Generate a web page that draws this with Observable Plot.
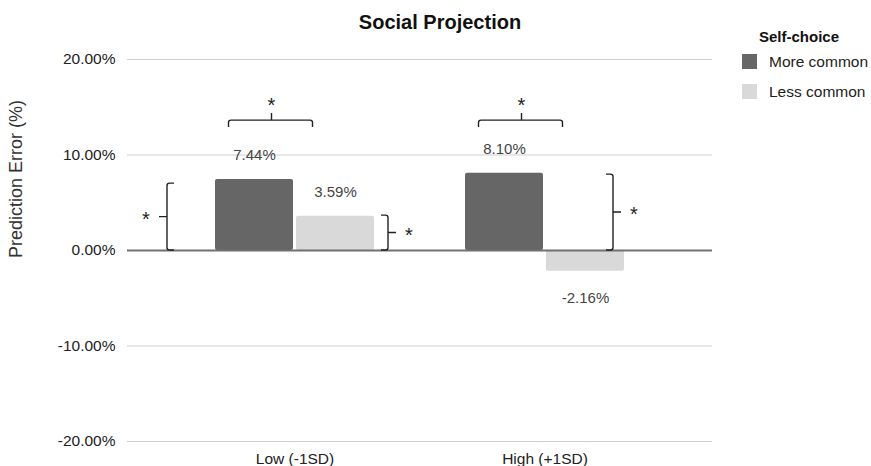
<!DOCTYPE html>
<html>
<head>
<meta charset="utf-8">
<script src="https://cdn.jsdelivr.net/npm/d3@7"></script>
<script src="https://cdn.jsdelivr.net/npm/@observablehq/plot@0.6"></script>
<style>
  body { margin: 0; background: #fff; font-family: "Liberation Sans", Arial, sans-serif; }
  #wrap { position: relative; width: 871px; height: 466px; overflow: hidden; }
  #chart { position: absolute; left: 0; top: 0; }
  #title { position: absolute; left: 0; width: 880px; top: 12px; text-align: center;
           font-weight: bold; font-size: 20px; line-height: 1; color: #111; }
  #legend { position: absolute; left: 742px; top: 0; }
  #legend .lt { position: absolute; left: 17px; top: 28px; font-weight: bold; font-size: 15px;
                line-height: 18px; white-space: nowrap; color: #111; }
  #legend .item { position: absolute; left: 0; white-space: nowrap; height: 15px; }
  #legend .sw { position: absolute; left: 0; top: 0; width: 15px; height: 15px; }
  #legend .lab { position: absolute; left: 27px; top: -2px; font-size: 15.5px; line-height: 19px; color: #222; }
</style>
</head>
<body>
<div id="wrap">
  <div id="chart"></div>
  <div id="title"></div>
  <div id="legend"></div>
</div>
<script>
// ---------- data ----------
const chartTitle = "Social Projection";
const yLabel = "Prediction Error (%)";
const legendTitle = "Self-choice";
const groups = ["Low (-1SD)", "High (+1SD)"];
const seriesNames = ["More common", "Less common"];
const moreCommon = [7.44, 8.10];
const lessCommon = [3.59, -2.16];
const seriesColors = ["#666666", "#d9d9d9"];
const yTicks = [-20, -10, 0, 10, 20];
// significance annotations (values in % units)
const topBrackets = [
  { group: "Low (-1SD)", y: 13.6, label: "*" },
  { group: "High (+1SD)", y: 13.6, label: "*" }
];
const sideBrackets = [
  { group: "Low (-1SD)", y1: 0, y2: 7.0, side: "left", label: "*" },
  { group: "Low (-1SD)", y1: 0, y2: 3.65, side: "right", label: "*" },
  { group: "High (+1SD)", y1: 0, y2: 7.95, side: "right", label: "*" }
];

// ---------- build table ----------
const rows = groups.flatMap((g, i) => [
  { group: g, series: seriesNames[0], value: moreCommon[i] },
  { group: g, series: seriesNames[1], value: lessCommon[i] }
]);
const isMore = d => d.series === seriesNames[0];
const isLess = d => d.series === seriesNames[1];
const fmt = v => v.toFixed(2) + "%";

// ---------- style constants ----------
const sideOffsets = [-127.5, 93.5, 68.5]; // px from group centre
const topSpan = [-66, 18], topTick = -23;

function bracketMark(index, scales) {
  const x = scales.x, y = scales.y;
  const bw = x.bandwidth();
  const cx = g => x(g) + bw / 2;
  const g = d3.create("svg:g");
  const paths = g.append("g").attr("fill", "none").attr("stroke", "#222").attr("stroke-width", 1.4);
  const stars = g.append("g").attr("fill", "#222").attr("font-size", 20).attr("text-anchor", "middle");
  const h = 7, r = 2.5;
  topBrackets.forEach(b => {
    const c = cx(b.group);
    const x1 = c + topSpan[0], x2 = c + topSpan[1], xt = c + topTick;
    const yy = y(b.y);
    paths.append("path").attr("d",
      `M${x1},${yy + h} L${x1},${yy + r} Q${x1},${yy} ${x1 + r},${yy} L${x2 - r},${yy} Q${x2},${yy} ${x2},${yy + r} L${x2},${yy + h}` +
      ` M${xt},${yy} L${xt},${yy - 7}`);
    stars.append("text").attr("x", xt).attr("y", yy - 8.5).text(b.label);
  });
  sideBrackets.forEach((b, i) => {
    const xx = cx(b.group) + sideOffsets[i];
    const yTop = y(b.y2), yBot = y(b.y1), ym = (yTop + yBot) / 2;
    const s = b.side === "left" ? 1 : -1; // direction of hooks
    paths.append("path").attr("d",
      `M${xx + s * h},${yTop} L${xx + s * r},${yTop} Q${xx},${yTop} ${xx},${yTop + r} L${xx},${yBot - r} Q${xx},${yBot} ${xx + s * r},${yBot} L${xx + s * h},${yBot}` +
      ` M${xx},${ym} L${xx - s * 8},${ym}`);
    stars.append("text").attr("x", xx - s * 21).attr("y", ym + 9).text(b.label);
  });
  return g.node();
}

function valueLabels(filterSeries, dx) {
  return [
    Plot.text(rows.filter(d => filterSeries(d) && d.value >= 0),
      { x: "group", y: "value", text: d => fmt(d.value), dx, dy: -24, fill: "#444", fontSize: 15 }),
    Plot.text(rows.filter(d => filterSeries(d) && d.value < 0),
      { x: "group", y: "value", text: d => fmt(d.value), dx, dy: 27, fill: "#444", fontSize: 15 })
  ];
}

const plot = Plot.plot({
  width: 871,
  height: 466,
  marginLeft: 127,
  marginRight: 159,
  marginTop: 59,
  marginBottom: 25,
  style: { fontFamily: '"Liberation Sans", Arial, sans-serif', fontSize: "15.5px", color: "#222", background: "transparent" },
  x: { domain: groups, paddingInner: 0.364, paddingOuter: 0.352 },
  y: { domain: [-20, 20] },
  color: { domain: seriesNames, range: seriesColors },
  marks: [
    Plot.ruleY(yTicks.filter(d => d !== 0), { stroke: "#cfcfcf", strokeWidth: 1 }),
    Plot.barY(rows.filter(isMore), { x: "group", y: "value", fill: "series", insetRight: 81, rx: 2 }),
    Plot.barY(rows.filter(isLess), { x: "group", y: "value", fill: "series", insetLeft: 81, rx: 2 }),
    Plot.ruleY([0], { stroke: "#707070", strokeWidth: 2 }),
    Plot.axisY({ ticks: yTicks, tickFormat: fmt, tickSize: 0, tickPadding: 12, fontSize: 15.5, label: null }),
    Plot.axisX({ tickSize: 0, tickPadding: 11, fontSize: 15.5, label: null }),
    Plot.text([yLabel], { text: d => d, frameAnchor: "left", rotate: -90, dx: -111.5, dy: 7.5, fontSize: 18, fill: "#333" }),
    ...valueLabels(isMore, -40.5),
    ...valueLabels(isLess, 40.5),
    bracketMark
  ]
});
document.getElementById("chart").appendChild(plot);

// ---------- title & legend ----------
document.getElementById("title").textContent = chartTitle;
const legend = document.getElementById("legend");
const lt = document.createElement("div");
lt.className = "lt";
lt.textContent = legendTitle;
legend.appendChild(lt);
const colorScale = plot.scale("color");
seriesNames.forEach((name, i) => {
  const item = document.createElement("div");
  item.className = "item";
  item.style.top = (54 + i * 30) + "px";
  const sw = document.createElement("div");
  sw.className = "sw";
  sw.style.background = colorScale.apply(name);
  const lab = document.createElement("div");
  lab.className = "lab";
  lab.textContent = name;
  item.appendChild(sw);
  item.appendChild(lab);
  legend.appendChild(item);
});
</script>
</body>
</html>
